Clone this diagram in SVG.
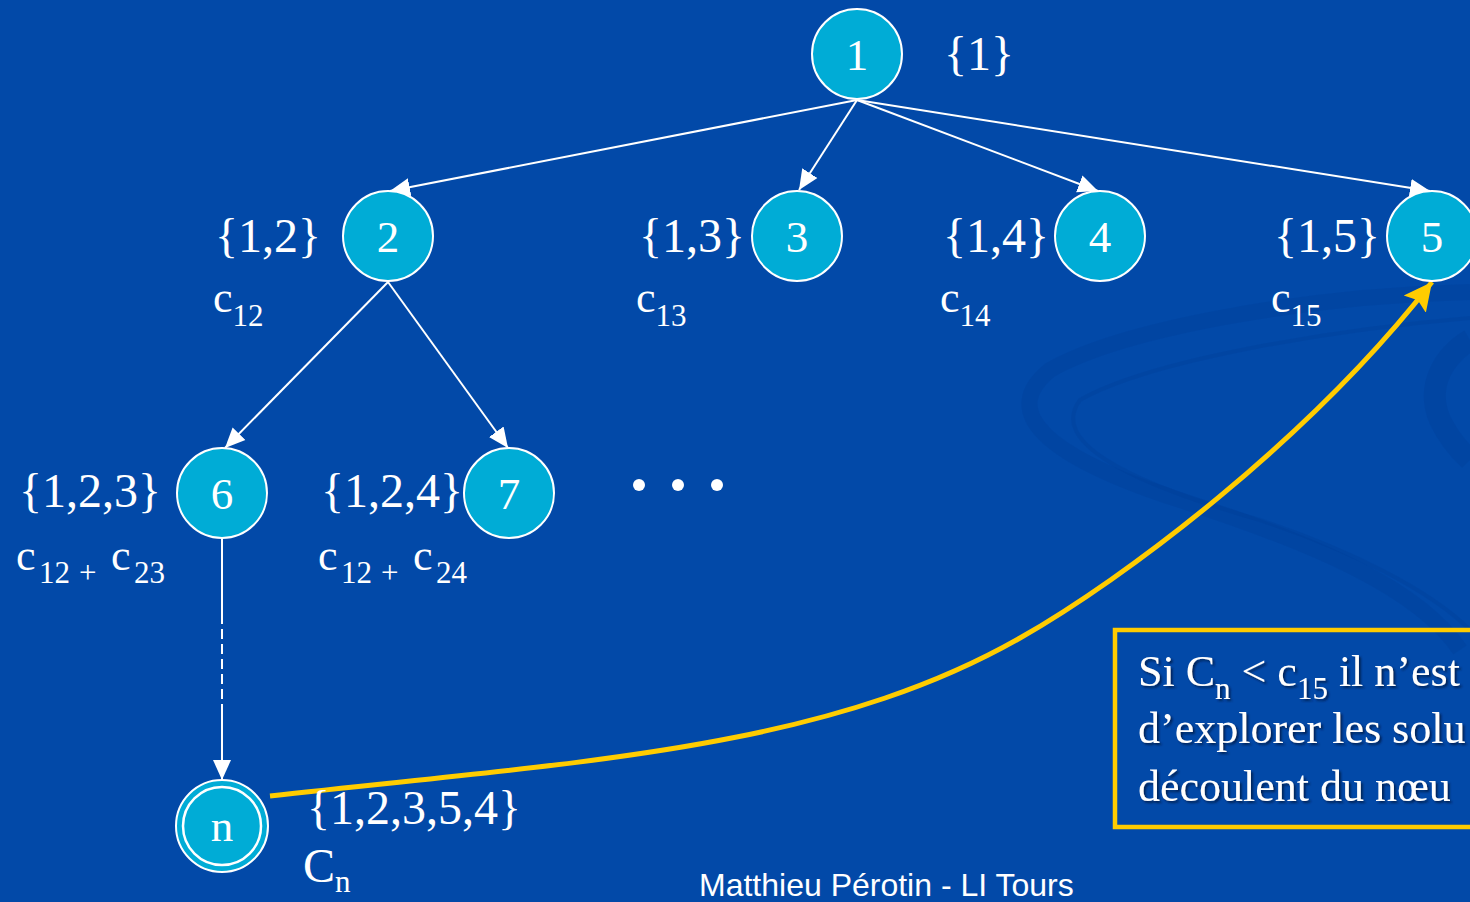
<svg xmlns="http://www.w3.org/2000/svg" width="1470" height="902" viewBox="0 0 1470 902">
<style>
.node{fill:#00ACD6;stroke:#FFFFFF;stroke-width:2}
.ring{fill:none;stroke:#FFFFFF;stroke-width:2.5}
.nl{font-family:"Liberation Serif",serif;font-size:45px;fill:#FFFFFF;text-anchor:middle}
.lbl{font-family:"Liberation Serif",serif;font-size:48px;fill:#FFFFFF}
.cost{font-family:"Liberation Serif",serif;font-size:44px;fill:#FFFFFF}
.sub{font-size:31px}
.edge{stroke:#FFFFFF;stroke-width:2;fill:none}
.box{font-family:"Liberation Serif",serif;font-size:44px;fill:#FFFFFF;filter:url(#sh)}
.foot{font-family:"Liberation Sans",Arial,sans-serif;font-size:32px;fill:#FFFFFF}
</style>
<defs>
<marker id="aw" markerUnits="userSpaceOnUse" markerWidth="20" markerHeight="20" refX="20" refY="10" orient="auto">
<path d="M0,1 L20,10 L0,19 z" fill="#FFFFFF"/>
</marker>
<marker id="ay" markerUnits="userSpaceOnUse" markerWidth="30" markerHeight="30" refX="28" refY="15" orient="auto">
<path d="M0,1 L28,15 L0,29 L5,15 z" fill="#FFCC00"/>
</marker>
<filter id="sh" x="-5%" y="-20%" width="110%" height="140%">
<feDropShadow dx="2" dy="2" stdDeviation="0.8" flood-color="#001E50" flood-opacity="0.9"/>
</filter>
</defs>
<rect x="0" y="0" width="1470" height="902" fill="#0249A8"/>
<g id="background" fill="none" stroke="#003A92" stroke-opacity="0.24">
<path d="M1470,292 C1300,296 1120,330 1050,370 C1000,410 1040,455 1180,500 C1320,545 1420,590 1460,650" stroke-width="16"/>
<path d="M1470,318 C1330,330 1150,360 1080,400 C1050,440 1120,480 1260,520 C1350,550 1430,590 1470,630" stroke-width="4"/>
<path d="M1470,340 C1445,355 1425,385 1440,420 C1452,445 1465,455 1470,460" stroke-width="22"/>
</g>
<g id="connectors">
<line class="edge" x1="857" y1="100" x2="390" y2="191" marker-end="url(#aw)"/>
<line class="edge" x1="857" y1="100" x2="799" y2="190" marker-end="url(#aw)"/>
<line class="edge" x1="857" y1="100" x2="1098" y2="191" marker-end="url(#aw)"/>
<line class="edge" x1="857" y1="100" x2="1430" y2="191" marker-end="url(#aw)"/>
<line class="edge" x1="388" y1="282" x2="225" y2="448" marker-end="url(#aw)"/>
<line class="edge" x1="388" y1="282" x2="508" y2="448" marker-end="url(#aw)"/>
<line class="edge" x1="222" y1="539" x2="222" y2="614"/>
<line class="edge" x1="222" y1="614" x2="222" y2="704" stroke-dasharray="10,5"/>
<line class="edge" x1="222" y1="704" x2="222" y2="780" marker-end="url(#aw)"/>
<path d="M270,796 C570,762 820,752 1020,638 C1124,579 1309,440 1432,282" fill="none" stroke="#FFCC00" stroke-width="5" marker-end="url(#ay)"/>
</g>
<g id="node1"><circle class="node" cx="857" cy="54" r="45"/><text class="nl" x="857" y="70">1</text><text class="lbl" x="944" y="70">{1}</text></g>
<g id="node2"><circle class="node" cx="388" cy="236" r="45"/><text class="nl" x="388" y="252">2</text><text class="lbl" x="215" y="252">{1,2}</text><text class="cost" x="213" y="312">c<tspan class="sub" dy="14">12</tspan></text></g>
<g id="node3"><circle class="node" cx="797" cy="236" r="45"/><text class="nl" x="797" y="252">3</text><text class="lbl" x="639" y="252">{1,3}</text><text class="cost" x="636" y="312">c<tspan class="sub" dy="14">13</tspan></text></g>
<g id="node4"><circle class="node" cx="1100" cy="236" r="45"/><text class="nl" x="1100" y="252">4</text><text class="lbl" x="943" y="252">{1,4}</text><text class="cost" x="940" y="312">c<tspan class="sub" dy="14">14</tspan></text></g>
<g id="node5"><circle class="node" cx="1432" cy="236" r="45"/><text class="nl" x="1432" y="252">5</text><text class="lbl" x="1274" y="252">{1,5}</text><text class="cost" x="1271" y="312">c<tspan class="sub" dy="14">15</tspan></text></g>
<g id="node6"><circle class="node" cx="222" cy="493" r="45"/><text class="nl" x="222" y="509">6</text><text class="lbl" x="19" y="507">{1,2,3}</text><text class="cost" x="16" y="570">c<tspan class="sub" x="39" dy="13">12</tspan><tspan class="sub" x="79">+</tspan><tspan x="111" dy="-13">c</tspan><tspan class="sub" x="134" dy="13">23</tspan></text></g>
<g id="node7"><circle class="node" cx="509" cy="493" r="45"/><text class="nl" x="509" y="509">7</text><text class="lbl" x="321" y="507">{1,2,4}</text><text class="cost" x="318" y="570">c<tspan class="sub" x="341" dy="13">12</tspan><tspan class="sub" x="381">+</tspan><tspan x="413" dy="-13">c</tspan><tspan class="sub" x="436" dy="13">24</tspan></text></g>
<g id="dots" fill="#FFFFFF"><circle cx="639" cy="485" r="6"/><circle cx="678" cy="485" r="6"/><circle cx="717" cy="485" r="6"/></g>
<g id="noden"><circle class="node" cx="222" cy="826" r="46"/><circle class="ring" cx="222" cy="826" r="39"/><text class="nl" x="222" y="841">n</text><text class="lbl" x="307" y="824">{1,2,3,5,4}</text><text class="lbl" x="303" y="882">C<tspan class="sub" dy="10">n</tspan></text></g>
<g id="note">
<rect x="1115" y="630" width="380" height="197" fill="none" stroke="#FFCC00" stroke-width="4.5"/>
<text class="box" x="1138" y="686">Si C<tspan class="sub" dy="13">n</tspan><tspan dy="-13"> &lt; c</tspan><tspan class="sub" dy="13">15</tspan><tspan dy="-13"> il n’est</tspan></text>
<text class="box" x="1138" y="743">d’explorer les solu</text>
<text class="box" x="1138" y="801">découlent du nœu</text>
</g>
<text class="foot" x="699" y="896">Matthieu Pérotin - LI Tours</text>
</svg>
